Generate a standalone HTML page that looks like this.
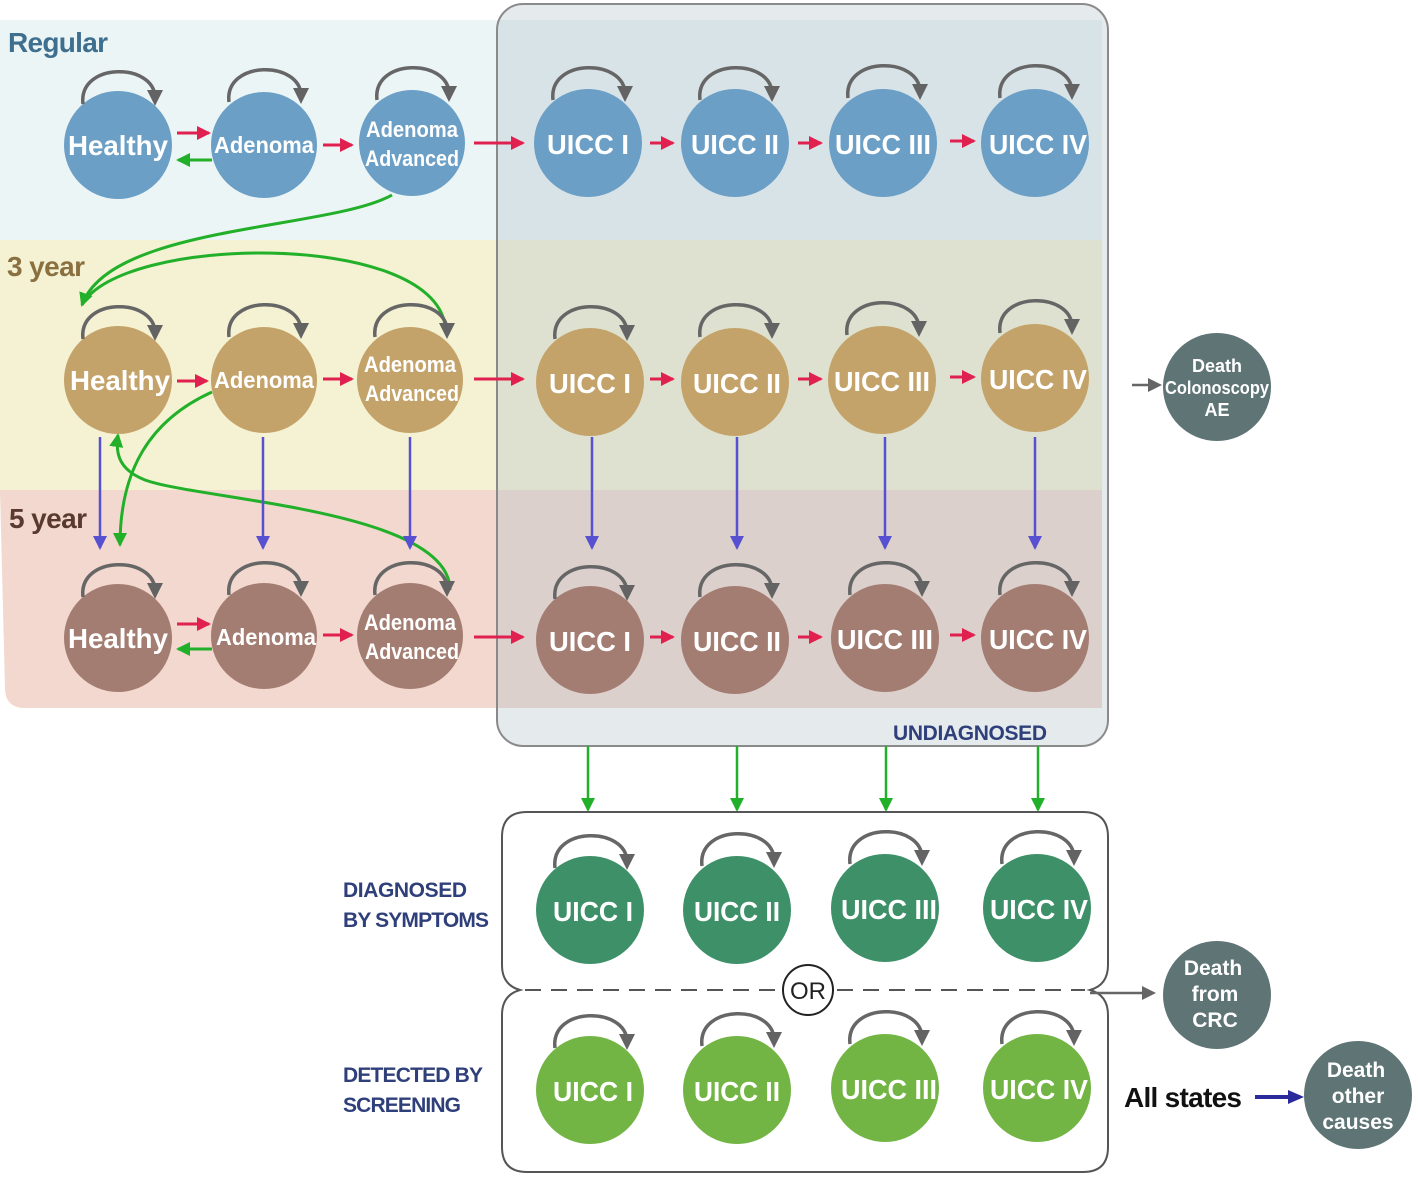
<!DOCTYPE html>
<html><head><meta charset="utf-8"><style>
html,body{margin:0;padding:0;background:#fff;}
svg{display:block;}
text{font-family:"Liberation Sans",sans-serif;}
</style></head><body>
<svg width="1418" height="1177" viewBox="0 0 1418 1177" xmlns="http://www.w3.org/2000/svg">
<defs>
<marker id="mg" markerWidth="16" markerHeight="16" refX="8" refY="8" orient="auto" markerUnits="userSpaceOnUse" viewBox="0 0 16 16"><path d="M0,0 L16,8 L0,16z" fill="#636363"/></marker>
<marker id="gy" markerWidth="14" markerHeight="14" refX="10" refY="7" orient="auto" markerUnits="userSpaceOnUse"><path d="M0,0 L14,7 L0,14z" fill="#666"/></marker>
<marker id="rd" markerWidth="14" markerHeight="14" refX="12" refY="7" orient="auto" markerUnits="userSpaceOnUse"><path d="M0,0 L14,7 L0,14z" fill="#e0204e"/></marker>
<marker id="gr" markerWidth="14" markerHeight="14" refX="12" refY="7" orient="auto" markerUnits="userSpaceOnUse"><path d="M0,0 L14,7 L0,14z" fill="#22b02a"/></marker>
<marker id="bl" markerWidth="14" markerHeight="14" refX="12" refY="7" orient="auto" markerUnits="userSpaceOnUse"><path d="M0,0 L14,7 L0,14z" fill="#5750d0"/></marker>
<marker id="nv" markerWidth="16" markerHeight="16" refX="12" refY="8" orient="auto" markerUnits="userSpaceOnUse"><path d="M0,1 L16,8 L0,15z" fill="#2a2a9a"/></marker>
</defs>
<rect x="0" y="20" width="1102" height="220" fill="#ecf5f6"/>
<rect x="0" y="240" width="1102" height="250" fill="#f4f2d2"/>
<path d="M0,490 H1102 V708 H25 Q5,708 5,688 Z" fill="#f2d8ce"/>
<rect x="497" y="4" width="611" height="742" rx="26" fill="#b4c4cc" fill-opacity="0.35" stroke="#8a8a8a" stroke-width="2"/>
<text x="8" y="52" font-size="28" font-weight="bold" fill="#3f6f8e" textLength="100">Regular</text>
<text x="7" y="276" font-size="28" font-weight="bold" fill="#8a7040" textLength="78">3 year</text>
<text x="9" y="528" font-size="28" font-weight="bold" fill="#5a3a30" textLength="78">5 year</text>
<text x="893" y="740" font-size="21" font-weight="bold" fill="#2f3f7a" textLength="154">UNDIAGNOSED</text>

<g fill="none" stroke="#22b02a" stroke-width="3">
<path d="M392,195 C330,230 110,225 82,305" marker-end="url(#gr)"/>
<path d="M445,325 C430,230 120,235 82,305"/>
<path d="M212,392 C150,420 120,470 120,545" marker-end="url(#gr)"/>
<path d="M450,590 C450,510 200,500 145,480 C120,470 115,455 118,435" marker-end="url(#gr)"/>
</g>

<g stroke="#5750d0" stroke-width="2.5" marker-end="url(#bl)">
<line x1="100" y1="437" x2="100" y2="548"/><line x1="263" y1="437" x2="263" y2="548"/><line x1="410" y1="437" x2="410" y2="548"/>
<line x1="592" y1="437" x2="592" y2="548"/><line x1="737" y1="437" x2="737" y2="548"/><line x1="885" y1="437" x2="885" y2="548"/><line x1="1035" y1="437" x2="1035" y2="548"/>
</g>
<g stroke="#22b02a" stroke-width="2.5" marker-end="url(#gr)">
<line x1="588" y1="746" x2="588" y2="810"/><line x1="737" y1="746" x2="737" y2="810"/><line x1="886" y1="746" x2="886" y2="810"/><line x1="1038" y1="746" x2="1038" y2="810"/>
</g>

<path d="M527,812 H1083 Q1108,812 1108,837 V965 Q1108,985 1090,990 Q1108,995 1108,1015 V1147 Q1108,1172 1083,1172 H527 Q502,1172 502,1147 V1015 Q502,995 520,990 Q502,985 502,965 V837 Q502,812 527,812 Z" fill="#fff" stroke="#555" stroke-width="2"/>
<line x1="525" y1="990" x2="1085" y2="990" stroke="#555" stroke-width="2" stroke-dasharray="16,10"/>
<circle cx="808" cy="990" r="25" fill="#fff" stroke="#222" stroke-width="2"/>
<text x="808" y="999" font-size="24" text-anchor="middle" fill="#222">OR</text>
<line x1="1090" y1="993" x2="1152" y2="993" stroke="#666" stroke-width="2.5" marker-end="url(#gy)"/>
<line x1="1132" y1="385" x2="1158" y2="385" stroke="#666" stroke-width="2.5" marker-end="url(#gy)"/>
<line x1="1255" y1="1097" x2="1300" y2="1097" stroke="#2a2a9a" stroke-width="4" marker-end="url(#nv)"/>

<text x="343" y="897" font-size="21" font-weight="bold" fill="#2f3f7a" textLength="124">DIAGNOSED</text>
<text x="343" y="927" font-size="21" font-weight="bold" fill="#2f3f7a" textLength="146">BY SYMPTOMS</text>
<text x="343" y="1082" font-size="21" font-weight="bold" fill="#2f3f7a" textLength="140">DETECTED BY</text>
<text x="343" y="1112" font-size="21" font-weight="bold" fill="#2f3f7a" textLength="118">SCREENING</text>
<text x="1124" y="1107" font-size="28" font-weight="bold" fill="#111" textLength="118">All states</text>

<g stroke-width="3" marker-end="url(#rd)" stroke="#e0204e">
<line x1="177" y1="133" x2="209" y2="133"/><line x1="323" y1="145" x2="352" y2="145"/><line x1="474" y1="143" x2="523" y2="143"/>
<line x1="650" y1="143" x2="673" y2="143"/><line x1="798" y1="143" x2="821" y2="143"/><line x1="950" y1="141" x2="974" y2="141"/>
<line x1="177" y1="381" x2="207" y2="381"/><line x1="323" y1="379" x2="352" y2="379"/><line x1="474" y1="379" x2="523" y2="379"/>
<line x1="650" y1="379" x2="673" y2="379"/><line x1="798" y1="379" x2="821" y2="379"/><line x1="950" y1="377" x2="974" y2="377"/>
<line x1="177" y1="624" x2="209" y2="624"/><line x1="323" y1="635" x2="352" y2="635"/><line x1="474" y1="637" x2="523" y2="637"/>
<line x1="650" y1="637" x2="673" y2="637"/><line x1="798" y1="637" x2="821" y2="637"/><line x1="950" y1="635" x2="974" y2="635"/>
</g>
<g stroke-width="3" stroke="#22b02a" marker-end="url(#gr)">
<line x1="212" y1="160" x2="178" y2="160"/><line x1="212" y1="649" x2="178" y2="649"/>
</g>

<g font-weight="bold" text-anchor="middle" fill="#fff">
<g fill="#6b9fc6"><circle cx="118" cy="145" r="54"/><circle cx="264" cy="145" r="53"/><circle cx="412" cy="143" r="53"/>
<circle cx="588" cy="143" r="54"/><circle cx="735" cy="143" r="54"/><circle cx="883" cy="143" r="54"/><circle cx="1035" cy="143" r="54"/></g>
<g fill="#c4a36a"><circle cx="118" cy="380" r="54"/><circle cx="264" cy="380" r="53"/><circle cx="410" cy="380" r="53"/>
<circle cx="590" cy="382" r="54"/><circle cx="735" cy="382" r="54"/><circle cx="882" cy="380" r="54"/><circle cx="1035" cy="378" r="54"/></g>
<g fill="#a47d72"><circle cx="118" cy="638" r="54"/><circle cx="264" cy="636" r="53"/><circle cx="410" cy="636" r="53"/>
<circle cx="590" cy="640" r="54"/><circle cx="735" cy="640" r="54"/><circle cx="885" cy="638" r="54"/><circle cx="1035" cy="638" r="54"/></g>
<g fill="#3e9068"><circle cx="590" cy="910" r="54"/><circle cx="737" cy="910" r="54"/><circle cx="885" cy="908" r="54"/><circle cx="1037" cy="908" r="54"/></g>
<g fill="#73b544"><circle cx="590" cy="1090" r="54"/><circle cx="737" cy="1090" r="54"/><circle cx="885" cy="1088" r="54"/><circle cx="1037" cy="1088" r="54"/></g>
<g fill="#5f7475"><circle cx="1217" cy="387" r="54"/><circle cx="1217" cy="995" r="54"/><circle cx="1358" cy="1095" r="54"/></g>
</g>

<g fill="none" stroke="#666" stroke-width="3.5" marker-end="url(#mg)">
<path d="M83,104 C78,62 155,62 155,98"/><path d="M229,102 C224,60 301,60 301,96"/><path d="M377,100 C372,58 449,58 449,94"/>
<path d="M553,100 C548,58 625,58 625,94"/><path d="M700,100 C695,58 772,58 772,94"/><path d="M848,98 C843,56 920,56 920,92"/><path d="M1000,98 C995,56 1072,56 1072,92"/>
<path d="M83,339 C78,297 155,297 155,333"/><path d="M229,337 C224,295 301,295 301,331"/><path d="M375,337 C370,295 447,295 447,331"/>
<path d="M555,339 C550,297 627,297 627,333"/><path d="M700,337 C695,295 772,295 772,331"/><path d="M847,335 C842,293 919,293 919,329"/><path d="M1000,333 C995,291 1072,291 1072,327"/>
<path d="M83,597 C78,555 155,555 155,591"/><path d="M229,595 C224,553 301,553 301,589"/><path d="M375,595 C370,553 447,553 447,589"/>
<path d="M555,599 C550,557 627,557 627,593"/><path d="M700,597 C695,555 772,555 772,591"/><path d="M850,595 C845,553 922,553 922,589"/><path d="M1000,595 C995,553 1072,553 1072,589"/>
<path d="M555,868 C550,826 627,826 627,862"/><path d="M702,866 C697,824 774,824 774,860"/><path d="M850,864 C845,822 922,822 922,858"/><path d="M1002,864 C997,822 1074,822 1074,858"/>
<path d="M555,1048 C550,1006 627,1006 627,1042"/><path d="M702,1046 C697,1004 774,1004 774,1040"/><path d="M850,1044 C845,1002 922,1002 922,1038"/><path d="M1002,1044 C997,1002 1074,1002 1074,1038"/>
</g>

<g font-weight="bold" text-anchor="middle" fill="#fff" font-size="28">
<text x="118" y="155" textLength="100" lengthAdjust="spacingAndGlyphs">Healthy</text>
<text x="264" y="153" font-size="23" textLength="100" lengthAdjust="spacingAndGlyphs">Adenoma</text>
<text x="412" y="137" font-size="22" textLength="92" lengthAdjust="spacingAndGlyphs">Adenoma</text>
<text x="412" y="166" font-size="22" textLength="94" lengthAdjust="spacingAndGlyphs">Advanced</text>
<text x="588" y="154" textLength="82" lengthAdjust="spacingAndGlyphs">UICC I</text>
<text x="735" y="154" textLength="88" lengthAdjust="spacingAndGlyphs">UICC II</text>
<text x="883" y="154" textLength="96" lengthAdjust="spacingAndGlyphs">UICC III</text>
<text x="1038" y="154" textLength="98" lengthAdjust="spacingAndGlyphs">UICC IV</text>

<text x="120" y="390" textLength="100" lengthAdjust="spacingAndGlyphs">Healthy</text>
<text x="264" y="388" font-size="23" textLength="100" lengthAdjust="spacingAndGlyphs">Adenoma</text>
<text x="410" y="372" font-size="22" textLength="92" lengthAdjust="spacingAndGlyphs">Adenoma</text>
<text x="412" y="401" font-size="22" textLength="94" lengthAdjust="spacingAndGlyphs">Advanced</text>
<text x="590" y="393" textLength="82" lengthAdjust="spacingAndGlyphs">UICC I</text>
<text x="737" y="393" textLength="88" lengthAdjust="spacingAndGlyphs">UICC II</text>
<text x="882" y="391" textLength="96" lengthAdjust="spacingAndGlyphs">UICC III</text>
<text x="1038" y="389" textLength="98" lengthAdjust="spacingAndGlyphs">UICC IV</text>

<text x="118" y="648" textLength="100" lengthAdjust="spacingAndGlyphs">Healthy</text>
<text x="266" y="645" font-size="23" textLength="100" lengthAdjust="spacingAndGlyphs">Adenoma</text>
<text x="410" y="630" font-size="22" textLength="92" lengthAdjust="spacingAndGlyphs">Adenoma</text>
<text x="412" y="659" font-size="22" textLength="94" lengthAdjust="spacingAndGlyphs">Advanced</text>
<text x="590" y="651" textLength="82" lengthAdjust="spacingAndGlyphs">UICC I</text>
<text x="737" y="651" textLength="88" lengthAdjust="spacingAndGlyphs">UICC II</text>
<text x="885" y="649" textLength="96" lengthAdjust="spacingAndGlyphs">UICC III</text>
<text x="1038" y="649" textLength="98" lengthAdjust="spacingAndGlyphs">UICC IV</text>

<text x="593" y="921" textLength="80" lengthAdjust="spacingAndGlyphs">UICC I</text>
<text x="737" y="921" textLength="86" lengthAdjust="spacingAndGlyphs">UICC II</text>
<text x="889" y="919" textLength="96" lengthAdjust="spacingAndGlyphs">UICC III</text>
<text x="1039" y="919" textLength="98" lengthAdjust="spacingAndGlyphs">UICC IV</text>
<text x="593" y="1101" textLength="80" lengthAdjust="spacingAndGlyphs">UICC I</text>
<text x="737" y="1101" textLength="86" lengthAdjust="spacingAndGlyphs">UICC II</text>
<text x="889" y="1099" textLength="96" lengthAdjust="spacingAndGlyphs">UICC III</text>
<text x="1039" y="1099" textLength="98" lengthAdjust="spacingAndGlyphs">UICC IV</text>

<g font-size="18">
<text x="1217" y="372">Death</text>
<text x="1217" y="394" textLength="104" lengthAdjust="spacingAndGlyphs">Colonoscopy</text>
<text x="1217" y="416">AE</text>
</g>
<g font-size="21">
<text x="1213" y="975">Death</text><text x="1215" y="1001">from</text><text x="1215" y="1027">CRC</text>
<text x="1356" y="1077">Death</text><text x="1358" y="1103">other</text><text x="1358" y="1129">causes</text>
</g>
</g>
</svg>
</body></html>
